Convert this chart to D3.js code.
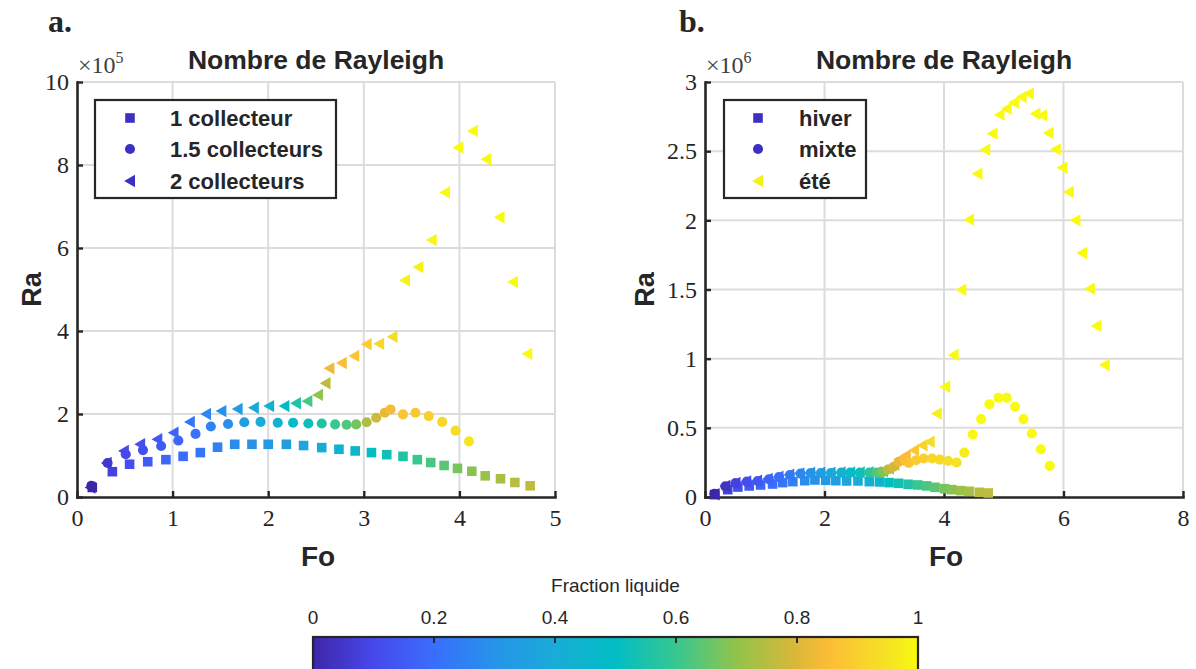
<!DOCTYPE html>
<html>
<head>
<meta charset="utf-8">
<script src="https://cdn.jsdelivr.net/npm/d3@7"></script>
<style>
  body { margin: 0; background: #fff; }
  text { fill: #262626; }
</style>
</head>
<body>
<script>
// ---- data ----
// panel a: Ra in units of 1e5
const foA1 = [0.16,0.37,0.55,0.74,0.93,1.11,1.29,1.47,1.65,1.83,2.00,2.19,2.37,2.56,2.74,2.91,3.08,3.24,3.41,3.56,3.70,3.84,3.98,4.13,4.27,4.43,4.58,4.74];
const raA1 = [0.23,0.61,0.79,0.85,0.90,0.98,1.07,1.20,1.27,1.27,1.27,1.27,1.24,1.19,1.15,1.11,1.07,1.02,0.98,0.90,0.83,0.76,0.69,0.62,0.51,0.44,0.35,0.27];
const flA1 = [0,0.08,0.12,0.15,0.18,0.2,0.22,0.25,0.28,0.3,0.32,0.34,0.37,0.4,0.43,0.46,0.5,0.53,0.56,0.6,0.62,0.64,0.67,0.69,0.71,0.73,0.75,0.76];

const foA15 = [0.15,0.32,0.51,0.69,0.88,1.06,1.24,1.40,1.58,1.75,1.92,2.10,2.26,2.42,2.56,2.70,2.82,2.92,3.03,3.13,3.22,3.28,3.41,3.54,3.68,3.82,3.96,4.10];
const raA15 = [0.27,0.82,1.03,1.13,1.23,1.36,1.52,1.70,1.76,1.80,1.81,1.79,1.79,1.77,1.77,1.75,1.74,1.75,1.80,1.91,2.03,2.11,1.99,2.03,1.95,1.81,1.60,1.34];
const flA15 = [0,0.05,0.1,0.12,0.15,0.18,0.21,0.25,0.29,0.34,0.4,0.44,0.48,0.52,0.56,0.6,0.63,0.67,0.74,0.78,0.82,0.84,0.87,0.88,0.9,0.92,0.94,0.96];

const foA2 = [0.14,0.31,0.49,0.66,0.84,1.01,1.18,1.35,1.51,1.68,1.85,2.01,2.17,2.29,2.41,2.52,2.60,2.64,2.77,2.90,3.03,3.16,3.30,3.43,3.57,3.71,3.85,3.99,4.14,4.28,4.42,4.56,4.71];
const raA2 = [0.23,0.82,1.11,1.27,1.39,1.55,1.81,2.00,2.07,2.12,2.15,2.19,2.19,2.26,2.31,2.46,2.74,3.10,3.23,3.40,3.68,3.69,3.86,5.22,5.54,6.19,7.34,8.42,8.82,8.14,6.74,5.18,3.45];
const flA2 = [0,0.05,0.1,0.12,0.14,0.17,0.22,0.27,0.3,0.34,0.39,0.44,0.5,0.55,0.62,0.7,0.76,0.83,0.85,0.87,0.9,0.92,0.94,0.98,0.98,0.99,1,1,1,1,1,1,1];

// panel b: Ra in units of 1e6
const foHiver = [0.16,0.38,0.55,0.74,0.93,1.13,1.30,1.47,1.67,1.84,2.02,2.19,2.37,2.56,2.75,2.92,3.08,3.24,3.40,3.56,3.71,3.85,4.01,4.13,4.28,4.42,4.59,4.74];
const raHiver = [0.017,0.053,0.072,0.080,0.087,0.094,0.104,0.111,0.118,0.123,0.121,0.118,0.116,0.116,0.111,0.109,0.104,0.099,0.092,0.087,0.080,0.070,0.060,0.053,0.046,0.041,0.034,0.029];
const flHiver = [0,0.08,0.12,0.15,0.18,0.2,0.22,0.25,0.28,0.3,0.32,0.34,0.37,0.4,0.43,0.46,0.5,0.53,0.56,0.6,0.62,0.64,0.67,0.69,0.71,0.73,0.75,0.76];

const foMixte = [0.16,0.34,0.51,0.70,0.88,1.07,1.24,1.42,1.60,1.77,1.94,2.11,2.28,2.43,2.59,2.75,2.87,2.97,3.06,3.15,3.24,3.34,3.41,3.53,3.66,3.80,3.93,4.07,4.21,4.34,4.48,4.62,4.76,4.91,5.05,5.19,5.33,5.47,5.62,5.77];
const raMixte = [0.024,0.077,0.100,0.111,0.116,0.128,0.145,0.159,0.169,0.174,0.174,0.174,0.176,0.176,0.176,0.176,0.176,0.180,0.198,0.217,0.254,0.270,0.246,0.266,0.278,0.278,0.270,0.260,0.249,0.321,0.452,0.563,0.671,0.717,0.717,0.652,0.563,0.459,0.345,0.225];
const flMixte = [0,0.04,0.08,0.11,0.14,0.17,0.2,0.23,0.27,0.3,0.34,0.38,0.44,0.48,0.53,0.58,0.63,0.68,0.75,0.79,0.82,0.85,0.87,0.89,0.9,0.92,0.93,0.94,0.95,0.97,0.99,1,1,1,1,1,1,1,1,1];

const foEte = [0.16,0.34,0.51,0.69,0.87,1.05,1.23,1.41,1.58,1.76,1.93,2.10,2.27,2.43,2.59,2.74,2.87,2.98,3.08,3.17,3.25,3.36,3.50,3.64,3.76,3.88,4.02,4.16,4.29,4.42,4.56,4.69,4.81,4.93,5.05,5.17,5.30,5.42,5.53,5.64,5.75,5.87,5.98,6.09,6.20,6.31,6.44,6.55,6.69];
const raEte = [0.020,0.080,0.102,0.113,0.118,0.130,0.147,0.161,0.171,0.176,0.176,0.176,0.178,0.178,0.178,0.179,0.180,0.186,0.205,0.235,0.270,0.300,0.338,0.374,0.399,0.604,0.797,1.027,1.498,2.005,2.337,2.510,2.627,2.764,2.807,2.851,2.892,2.916,2.771,2.759,2.631,2.513,2.381,2.205,2.000,1.764,1.506,1.237,0.954];
const flEte = [0,0.04,0.08,0.11,0.14,0.17,0.2,0.23,0.27,0.3,0.34,0.38,0.44,0.48,0.53,0.58,0.63,0.68,0.75,0.8,0.83,0.85,0.88,0.91,0.94,0.98,1,1,1,1,1,1,1,1,1,1,1,1,1,1,1,1,1,1,1,1,1,1,1];

// axis ticks and colorbar ticks
const xTicksA = [0, 1, 2, 3, 4, 5];
const yTicksA = [0, 2, 4, 6, 8, 10];
const xTicksB = [0, 2, 4, 6, 8];
const yTicksB = [0, 0.5, 1, 1.5, 2, 2.5, 3];
const cbarTicks = [0, 0.2, 0.4, 0.6, 0.8, 1];

const legendA = ['1 collecteur', '1.5 collecteurs', '2 collecteurs'];
const legendB = ['hiver', 'mixte', 'été'];

// parula-like colormap
const parulaStops = [
  [0.00, '#3e26a8'], [0.10, '#4748eb'], [0.20, '#396efc'], [0.30, '#2693e9'],
  [0.40, '#19acd7'], [0.50, '#01bdc4'], [0.60, '#37c791'], [0.70, '#91c34b'],
  [0.80, '#dcb737'], [0.85, '#fcbc37'], [0.90, '#facf2d'], [0.95, '#f4e223'],
  [1.00, '#f9fb0e']
];
const parula = d3.scaleLinear()
  .domain(parulaStops.map(d => d[0]))
  .range(parulaStops.map(d => d[1]))
  .interpolate(d3.interpolateRgb)
  .clamp(true);

const W = 1196, H = 669;
const axisColor = '#262626';
const gridColor = '#dcdcdc';
const serif = 'Liberation Serif, DejaVu Serif, serif';

const svg = d3.select('body').append('svg')
  .attr('width', W)
  .attr('height', H)
  .style('font-family', 'Liberation Sans, Arial, sans-serif');

// marker shapes
const shapes = {
  square: 'M-4.8,-4.8H4.8V4.8H-4.8Z',
  circle: d3.symbol(d3.symbolCircle, 80)(),
  left: 'M-5.8,0L5,-6.2L5,6.2Z'
};

const panels = [
  {
    tag: 'a.', tagX: 48, left: 77, right: 555, xMax: 5, yMax: 10,
    xTicks: xTicksA, yTicks: yTicksA, exp: '5', raX: 41,
    legend: { x: 95, y: 100, w: 241, h: 98, labels: legendA, markX: 130, textX: 170,
              colors: ['#3b30c2', '#3b30c2', '#3b30c2'] },
    series: [
      { fo: foA1, ra: raA1, fl: flA1, shape: 'square' },
      { fo: foA2, ra: raA2, fl: flA2, shape: 'left' },
      { fo: foA15, ra: raA15, fl: flA15, shape: 'circle' }
    ]
  },
  {
    tag: 'b.', tagX: 679, left: 705, right: 1183, xMax: 8, yMax: 3,
    xTicks: xTicksB, yTicks: yTicksB, exp: '6', raX: 654,
    legend: { x: 724, y: 100, w: 142, h: 98, labels: legendB, markX: 758, textX: 799,
              colors: ['#3b30c2', '#3b30c2', '#f5f014'] },
    series: [
      { fo: foHiver, ra: raHiver, fl: flHiver, shape: 'square' },
      { fo: foEte, ra: raEte, fl: flEte, shape: 'left' },
      { fo: foMixte, ra: raMixte, fl: flMixte, shape: 'circle' }
    ]
  }
];
const legendShapes = ['square', 'circle', 'left'];

const yTop = 82, yBottom = 497;

panels.forEach(p => {
  const x = d3.scaleLinear().domain([0, p.xMax]).range([p.left, p.right]);
  const y = d3.scaleLinear().domain([0, p.yMax]).range([yBottom, yTop]);
  const g = svg.append('g');

  // grid
  g.append('g')
    .selectAll('line')
    .data(p.xTicks.filter(d => d > 0))
    .join('line')
    .attr('x1', d => x(d)).attr('x2', d => x(d))
    .attr('y1', yTop).attr('y2', yBottom)
    .attr('stroke', gridColor).attr('stroke-width', 2);
  g.append('g')
    .selectAll('line')
    .data(p.yTicks.filter(d => d > 0))
    .join('line')
    .attr('x1', p.left).attr('x2', p.right)
    .attr('y1', d => y(d)).attr('y2', d => y(d))
    .attr('stroke', gridColor).attr('stroke-width', 2);

  // axes
  const xAxis = d3.axisBottom(x).tickValues(p.xTicks).tickFormat(d3.format('~g'))
    .tickSizeInner(-6).tickSizeOuter(0).tickPadding(12);
  const yAxis = d3.axisLeft(y).tickValues(p.yTicks).tickFormat(d3.format('~g'))
    .tickSizeInner(-6).tickSizeOuter(0).tickPadding(8);

  [[xAxis, `translate(0,${yBottom})`], [yAxis, `translate(${p.left},0)`]].forEach(([ax, tr]) => {
    const a = g.append('g').attr('transform', tr).call(ax);
    a.select('.domain').attr('stroke', axisColor).attr('stroke-width', 2.6)
      .attr('stroke-linecap', 'square');
    a.selectAll('.tick line').attr('stroke', axisColor).attr('stroke-width', 2.4);
    a.selectAll('.tick text')
      .attr('fill', axisColor)
      .style('font-family', serif)
      .style('font-size', '24px');
  });

  // exponent label
  const ex = g.append('text')
    .attr('x', p.left + 1).attr('y', 73)
    .style('font-family', serif)
    .style('font-size', '24px')
    .style('fill', '#404040');
  ex.append('tspan').text('×10');
  ex.append('tspan').attr('dy', -10).style('font-size', '16px').text(p.exp);

  // markers
  p.series.forEach(s => {
    g.append('g')
      .selectAll('path')
      .data(s.fo.map((f, i) => ({ fo: f, ra: s.ra[i], fl: s.fl[i] })))
      .join('path')
      .attr('d', shapes[s.shape])
      .attr('transform', d => `translate(${x(d.fo)},${y(d.ra)})`)
      .attr('fill', d => parula(d.fl));
  });

  // titles and labels
  const cx = (p.left + p.right) / 2;
  g.append('text').attr('x', cx).attr('y', 69).attr('text-anchor', 'middle')
    .style('font-size', '26.5px').style('font-weight', 'bold').text('Nombre de Rayleigh');
  g.append('text').attr('x', cx + 2).attr('y', 566).attr('text-anchor', 'middle')
    .style('font-size', '28px').style('font-weight', 'bold').text('Fo');
  g.append('text')
    .attr('transform', `translate(${p.raX},${(yTop + yBottom) / 2}) rotate(-90)`)
    .attr('text-anchor', 'middle')
    .style('font-size', '27px').style('font-weight', 'bold').text('Ra');
  g.append('text').attr('x', p.tagX).attr('y', 32)
    .style('font-family', serif)
    .style('font-size', '32px').style('font-weight', 'bold').text(p.tag);

  // legend
  const L = p.legend;
  const lg = g.append('g');
  lg.append('rect').attr('x', L.x).attr('y', L.y).attr('width', L.w).attr('height', L.h)
    .attr('fill', '#fff').attr('stroke', axisColor).attr('stroke-width', 2.2);
  const rowY = [118, 149, 181];
  L.labels.forEach((lab, i) => {
    lg.append('path').attr('d', shapes[legendShapes[i]])
      .attr('transform', `translate(${L.markX},${rowY[i]})`)
      .attr('fill', L.colors[i]);
    lg.append('text').attr('x', L.textX).attr('y', rowY[i] + 8)
      .style('font-size', '22px').style('font-weight', 'bold').text(lab);
  });
});

// colour bar
const cb = { x0: 313, x1: 918, y: 637, h: 40 };
const cbX = d3.scaleLinear().domain([0, 1]).range([cb.x0, cb.x1]);
const grad = svg.append('defs').append('linearGradient').attr('id', 'parula')
  .attr('x1', '0%').attr('x2', '100%').attr('y1', '0%').attr('y2', '0%');
d3.range(0, 1.0001, 0.02).forEach(t => {
  grad.append('stop').attr('offset', `${t * 100}%`).attr('stop-color', parula(t));
});
svg.append('rect').attr('x', cb.x0).attr('y', cb.y).attr('width', cb.x1 - cb.x0).attr('height', cb.h)
  .attr('fill', 'url(#parula)').attr('stroke', axisColor).attr('stroke-width', 2.2);
svg.append('g').selectAll('line')
  .data(cbarTicks.slice(1, -1))
  .join('line')
  .attr('x1', d => cbX(d)).attr('x2', d => cbX(d))
  .attr('y1', cb.y).attr('y2', cb.y + 6)
  .attr('stroke', axisColor).attr('stroke-width', 2);
svg.append('g').selectAll('text')
  .data(cbarTicks)
  .join('text')
  .attr('x', d => cbX(d)).attr('y', 624)
  .attr('text-anchor', 'middle')
  .style('font-size', '19px')
  .text(d3.format('~g'));
svg.append('text').attr('x', (cb.x0 + cb.x1) / 2).attr('y', 592)
  .attr('text-anchor', 'middle').style('font-size', '19px').text('Fraction liquide');
</script>
</body>
</html>
